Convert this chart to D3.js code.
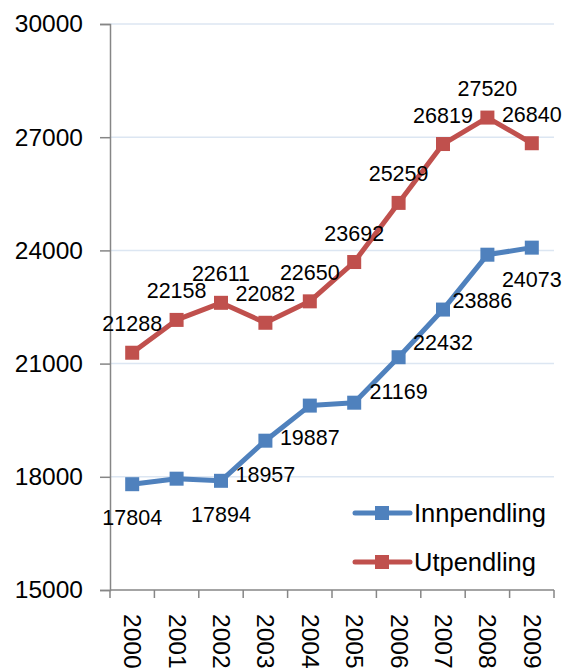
<!DOCTYPE html>
<html>
<head>
<meta charset="utf-8">
<script src="https://cdn.jsdelivr.net/npm/d3@7"></script>
<style>
  body { margin: 0; background: #fff; }
  text { font-family: "Liberation Sans", Arial, sans-serif; fill: #000; }
</style>
</head>
<body>
<div id="chart"></div>
<script>
// Chart data
var years = ["2000", "2001", "2002", "2003", "2004", "2005", "2006", "2007", "2008", "2009"];
var innpendling = [17804, 17950, 17894, 18957, 19887, 19964, 21169, 22432, 23886, 24073];
var utpendling = [21288, 22158, 22611, 22082, 22650, 23692, 25259, 26819, 27520, 26840];
// which points carry a value label
var innLabelShown = [true, false, true, true, true, false, true, true, true, true];
var yTicks = [15000, 18000, 21000, 24000, 27000, 30000];
var seriesNames = ["Innpendling", "Utpendling"];

var svgWidth = 566;
var svgHeight = 671;

var colors = { inn: "#4f81bd", ut: "#c0504d" };

var svg = d3.select("#chart")
  .append("svg")
  .attr("width", svgWidth)
  .attr("height", svgHeight);

var x = d3.scaleBand()
  .domain(years)
  .range([110, 554])
  .padding(0);

var y = d3.scaleLinear()
  .domain([15000, 30000])
  .range([590, 24]);

var cx = d => x(d) + x.bandwidth() / 2;

// gridlines
svg.append("g")
  .selectAll("line")
  .data(yTicks.slice(1))
  .enter()
  .append("line")
  .attr("x1", 110)
  .attr("x2", 554)
  .attr("y1", d => y(d))
  .attr("y2", d => y(d))
  .attr("stroke", "#dce6f2")
  .attr("stroke-width", 1.5);

// y axis
var leftAxis = d3.axisLeft(y).tickValues(yTicks).tickSize(10).tickPadding(17).tickFormat(d3.format("d"));
var yAxis = svg.append("g")
  .attr("transform", "translate(110,0)")
  .call(leftAxis);
yAxis.select(".domain").attr("stroke", "#868686").attr("stroke-width", 1.5);
yAxis.selectAll(".tick line").attr("stroke", "#868686").attr("stroke-width", 1.5);
yAxis.selectAll(".tick text").style("font-size", "24.5px").attr("fill", "#000");

// x axis
svg.append("line")
  .attr("x1", 110).attr("x2", 554)
  .attr("y1", 590).attr("y2", 590)
  .attr("stroke", "#868686").attr("stroke-width", 1.5);

var boundaries = years.map(d => x(d)).concat([x.range()[1]]);
svg.append("g")
  .selectAll("line")
  .data(boundaries)
  .enter()
  .append("line")
  .attr("x1", d => d).attr("x2", d => d)
  .attr("y1", 590).attr("y2", 598)
  .attr("stroke", "#868686").attr("stroke-width", 1.5);

svg.append("g")
  .selectAll("text")
  .data(years)
  .enter()
  .append("text")
  .attr("transform", d => `translate(${cx(d) - 8}, 614) rotate(90)`)
  .style("font-size", "24.5px")
  .text(d => d);

// lines
var line = d3.line()
  .x((d, i) => cx(years[i]))
  .y(d => y(d));

function drawSeries(values, color) {
  svg.append("path")
    .datum(values)
    .attr("d", line)
    .attr("fill", "none")
    .attr("stroke", color)
    .attr("stroke-width", 5)
    .attr("stroke-linejoin", "round");

  svg.append("g")
    .selectAll("rect")
    .data(values)
    .enter()
    .append("rect")
    .attr("x", (d, i) => cx(years[i]) - 7)
    .attr("y", d => y(d) - 7)
    .attr("width", 14)
    .attr("height", 14)
    .attr("fill", color);
}

drawSeries(innpendling, colors.inn);
drawSeries(utpendling, colors.ut);

// value labels
svg.append("g")
  .selectAll("text")
  .data(utpendling)
  .enter()
  .append("text")
  .attr("x", (d, i) => cx(years[i]))
  .attr("y", d => y(d) - 29)
  .attr("dy", "0.35em")
  .attr("text-anchor", "middle")
  .style("font-size", "21.5px")
  .text(d => d);

var innLabelShift = [[0, 33], [0, 0], [0, 34], [0, 34], [0, 32], [0, 0], [0, 34], [0, 33], [-5, 46], [0, 32]];
svg.append("g")
  .selectAll("text")
  .data(innpendling.filter((d, i) => innLabelShown[i]).map(d => innpendling.indexOf(d)))
  .enter()
  .append("text")
  .attr("x", i => cx(years[i]) + innLabelShift[i][0])
  .attr("y", i => y(innpendling[i]) + innLabelShift[i][1])
  .attr("dy", "0.35em")
  .attr("text-anchor", "middle")
  .style("font-size", "21.5px")
  .text(i => innpendling[i]);

// legend
var legend = svg.append("g");
var legendItems = [
  { name: seriesNames[0], color: colors.inn, y: 513 },
  { name: seriesNames[1], color: colors.ut, y: 562 }
];
legendItems.forEach(function(item) {
  legend.append("line")
    .attr("x1", 355).attr("x2", 410)
    .attr("y1", item.y).attr("y2", item.y)
    .attr("stroke", item.color)
    .attr("stroke-width", 5)
    .attr("stroke-linecap", "round");
  legend.append("rect")
    .attr("x", 375).attr("y", item.y - 7)
    .attr("width", 14).attr("height", 14)
    .attr("fill", item.color);
  legend.append("text")
    .attr("x", 414)
    .attr("y", item.y)
    .attr("dy", "0.35em")
    .style("font-size", "25.5px")
    .text(item.name);
});
</script>
</body>
</html>
